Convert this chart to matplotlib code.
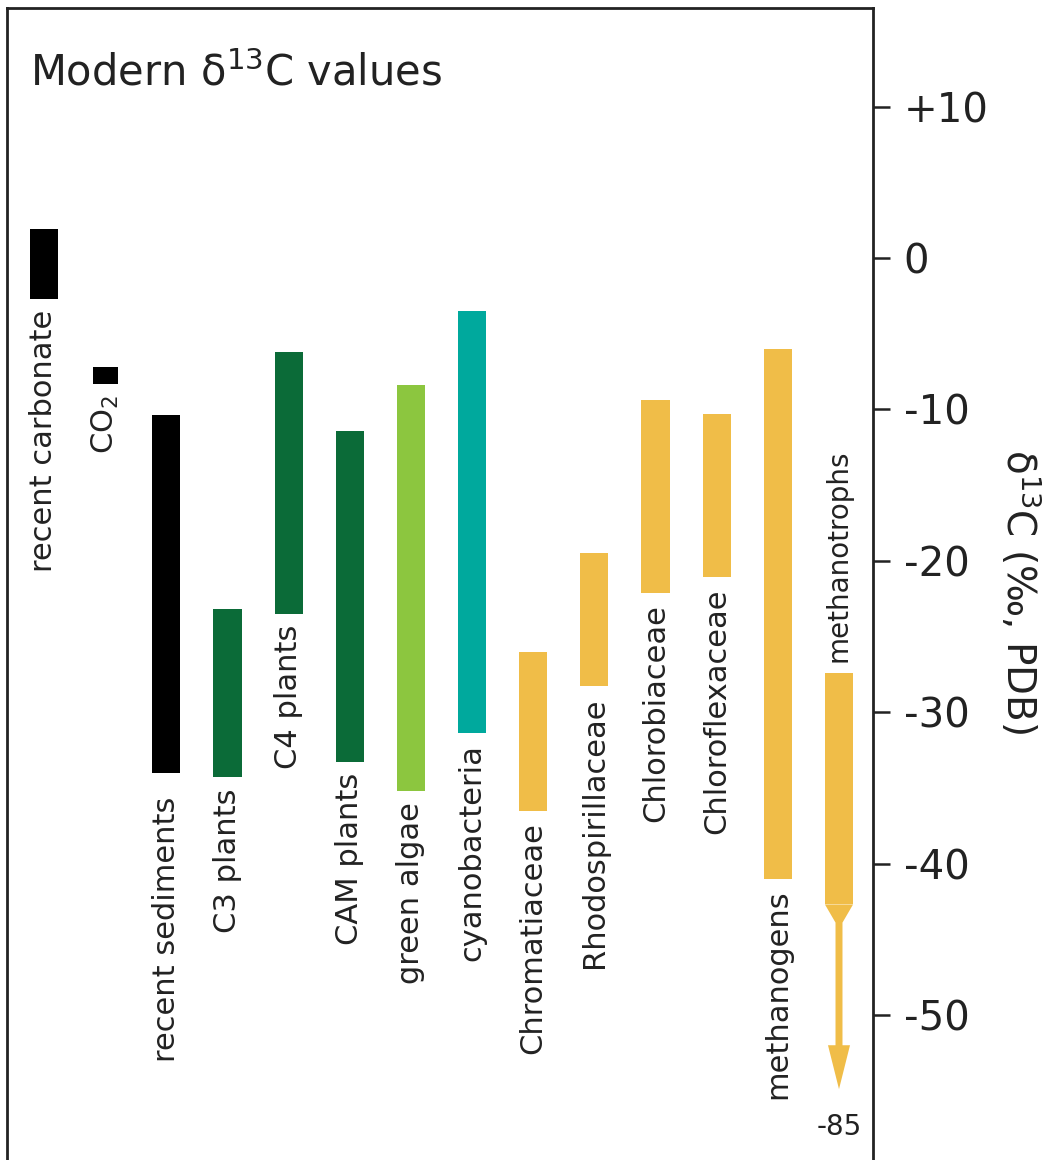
import matplotlib
matplotlib.use("Agg")
import matplotlib.pyplot as plt
from matplotlib.patches import Polygon

plt.rcParams['font.family'] = ['DejaVu Sans']
plt.rcParams['mathtext.fontset'] = 'dejavusans'

# Ranges of modern carbon isotope compositions (per mil vs PDB)
groups = ["recent carbonate", "CO$_2$", "recent sediments", "C3 plants", "C4 plants",
          "CAM plants", "green algae", "cyanobacteria", "Chromatiaceae",
          "Rhodospirillaceae", "Chlorobiaceae", "Chloroflexaceae", "methanogens",
          "methanotrophs"]
d13c_high = [1.9, -7.2, -10.4, -23.2, -6.2, -11.4, -8.4, -3.5, -26.0, -19.5, -9.4, -10.3, -6.0, -27.4]
d13c_low = [-2.7, -8.3, -34.0, -34.3, -23.5, -33.3, -35.2, -31.4, -36.5, -28.3, -22.1, -21.1, -41.0, -42.7]
bar_colors = ["#000000", "#000000", "#000000", "#0b6b38", "#0b6b38", "#0b6b38",
              "#8cc63f", "#00a99d", "#f0bd48", "#f0bd48", "#f0bd48", "#f0bd48",
              "#f0bd48", "#f0bd48"]

# methanotrophs extend far below the plotted range
methanotroph_extreme = -85
axis_break = -54.9          # where the long tail is cut on the shown scale

yticks = [10, 0, -10, -20, -30, -40, -50]
ytick_labels = ["+10", "0", "-10", "-20", "-30", "-40", "-50"]

W, H = 1045, 1160
fig = plt.figure(figsize=(W / 100, H / 100), dpi=100)
ax = fig.add_axes([7 / W, 0, 866 / W, 1152 / H])
ax.set_xlim(-0.605, 13.556)
ax.set_ylim(-59.58, 16.51)

bar_w = 0.46
for i, (name, hi, lo, col) in enumerate(zip(groups, d13c_high, d13c_low, bar_colors)):
    w = 0.41 if name.startswith("CO") else bar_w
    ax.bar(i, hi - lo, bottom=lo, width=w, color=col, edgecolor="none")

# tail of the methanotroph range: taper, shaft and arrow head
i_mt = groups.index("methanotrophs")
col_mt = bar_colors[i_mt]
lo_mt = d13c_low[i_mt]
half = bar_w / 2
shaft = 0.057
head = 0.18
taper_end = lo_mt - 1.2
head_base = axis_break + 2.9
tail = Polygon([
    (i_mt - half, lo_mt), (i_mt + half, lo_mt),
    (i_mt + shaft, taper_end), (i_mt + shaft, head_base),
    (i_mt + head, head_base), (i_mt, axis_break),
    (i_mt - head, head_base), (i_mt - shaft, head_base),
    (i_mt - shaft, taper_end),
], closed=True, facecolor=col_mt, edgecolor="none")
ax.add_patch(tail)
ax.annotate(f"{methanotroph_extreme}", xy=(i_mt, axis_break), xytext=(0, -17),
            textcoords="offset points", ha="center", va="top", fontsize=20,
            color="#222222")

# vertical group labels
label_gap = {"recent sediments": 17}
label_size = {"methanotrophs": 20}
for i, (name, hi, lo) in enumerate(zip(groups, d13c_high, d13c_low)):
    gap = label_gap.get(name, 8)
    fs = label_size.get(name, 22)
    if name == "methanotrophs":
        ax.annotate(name, xy=(i, hi), xytext=(0, gap), textcoords="offset points",
                    rotation=90, ha="center", va="bottom", fontsize=fs, color="#222222")
    else:
        ax.annotate(name, xy=(i, lo), xytext=(0, -gap), textcoords="offset points",
                    rotation=90, ha="center", va="top", fontsize=fs, color="#222222")

for side in ("left", "top", "right"):
    ax.spines[side].set_linewidth(2.0)
    ax.spines[side].set_color("#222222")
ax.spines["bottom"].set_visible(False)
ax.set_xticks([])
ax.yaxis.tick_right()
ax.set_yticks(yticks)
ax.set_yticklabels(ytick_labels)
ax.tick_params(axis="y", direction="out", length=12, width=1.8, pad=10,
               labelsize=29, colors="#222222")

fig.text(30 / W, 1 - 85 / H, "Modern δ$^{13}$C values", fontsize=30,
         ha="left", va="baseline", color="#222222")
fig.text(1020 / W, 1 - 592 / H, "δ$^{13}$C (‰, PDB)", rotation=-90,
         ha="center", va="center", fontsize=28, color="#222222")

fig.savefig("out.png", dpi=100, facecolor="white")
